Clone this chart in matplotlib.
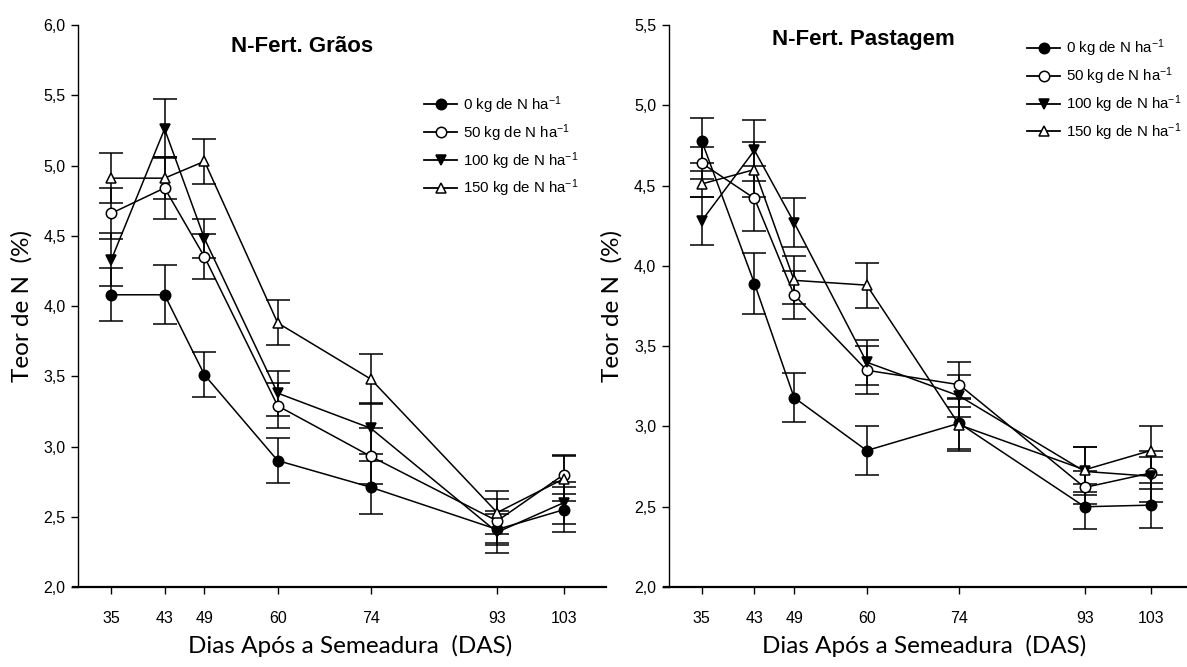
import matplotlib
matplotlib.use("Agg")
import matplotlib.pyplot as plt
from matplotlib.lines import Line2D
from matplotlib.ticker import FuncFormatter, MultipleLocator

# dias apos a semeadura
das = [35, 43, 49, 60, 74, 93, 103]
doses = ["0", "50", "100", "150"]

# N-Fert. Graos: teor de N (%) e erro
graos_0 = [4.08, 4.08, 3.51, 2.90, 2.71, 2.41, 2.55]
graos_50 = [4.66, 4.84, 4.35, 3.29, 2.93, 2.47, 2.80]
graos_100 = [4.33, 5.26, 4.48, 3.38, 3.13, 2.39, 2.60]
graos_150 = [4.91, 4.91, 5.03, 3.88, 3.48, 2.53, 2.77]
graos_err_0 = [0.19, 0.21, 0.16, 0.16, 0.19, 0.11, 0.16]
graos_err_50 = [0.18, 0.22, 0.16, 0.16, 0.20, 0.16, 0.14]
graos_err_100 = [0.19, 0.21, 0.14, 0.16, 0.18, 0.15, 0.15]
graos_err_150 = [0.18, 0.15, 0.16, 0.16, 0.18, 0.15, 0.16]

# N-Fert. Pastagem
past_0 = [4.78, 3.89, 3.18, 2.85, 3.02, 2.50, 2.51]
past_50 = [4.64, 4.42, 3.82, 3.35, 3.26, 2.62, 2.71]
past_100 = [4.28, 4.72, 4.27, 3.40, 3.19, 2.72, 2.69]
past_150 = [4.51, 4.60, 3.91, 3.88, 3.01, 2.73, 2.85]
past_err_0 = [0.14, 0.19, 0.15, 0.15, 0.16, 0.14, 0.14]
past_err_50 = [0.10, 0.20, 0.15, 0.15, 0.14, 0.10, 0.10]
past_err_100 = [0.15, 0.19, 0.15, 0.14, 0.13, 0.15, 0.16]
past_err_150 = [0.08, 0.17, 0.15, 0.14, 0.16, 0.14, 0.15]

plt.rcParams["font.family"] = ["Liberation Sans Narrow", "Liberation Sans", "DejaVu Sans"]
plt.rcParams["mathtext.default"] = "regular"

markers = [("o", "black"), ("o", "white"), ("v", "black"), ("^", "white")]


def painel(ax, series, errs, ymax, title, title_pos, leg_pos, xlab_x):
    handles = []
    for dose, y, e, (m, fc) in zip(doses, series, errs, markers):
        ax.errorbar(das, y, yerr=e, color="black", lw=1.1, marker=m,
                    ms=7.5, mfc=fc, mec="black", mew=1.1, elinewidth=1.1,
                    capsize=8.5, capthick=1.6)
        handles.append(Line2D([], [], color="black", lw=1.3, marker=m, ms=7.5,
                              mfc=fc, mec="black", mew=1.1,
                              label=f"{dose} kg de N ha$^{{-1}}$"))
    ax.set_xlim(29.2, 109.3)
    ax.set_ylim(2.0, ymax)
    ax.set_xticks(das)
    ax.yaxis.set_major_locator(MultipleLocator(0.5))
    ax.yaxis.set_major_formatter(FuncFormatter(lambda v, p: f"{v:.1f}".replace(".", ",")))
    ax.spines["top"].set_visible(False)
    ax.spines["right"].set_visible(False)
    ax.spines["left"].set_position(("data", 30))
    ax.spines["left"].set_linewidth(1.0)
    ax.spines["bottom"].set_linewidth(1.6)
    ax.tick_params(direction="out", length=5, width=1, labelsize=11.5, pad=4)
    ax.tick_params(axis="x", pad=12)
    ax.set_xlabel("Dias Após a Semeadura  (DAS)", fontsize=17.5, family="Lato")
    ax.xaxis.set_label_coords(xlab_x, -0.085)
    ax.set_ylabel("Teor de N  (%)", fontsize=17.5, family="Lato", labelpad=8)
    ax.text(title_pos[0], title_pos[1], title, transform=ax.transAxes,
            ha="center", va="center", fontsize=16, fontweight="bold",
            family="Liberation Sans")
    ax.legend(handles=handles, loc="upper left", bbox_to_anchor=leg_pos,
              frameon=False, fontsize=10.8, handlelength=2.2, handletextpad=0.35,
              labelspacing=0.42, borderpad=0, borderaxespad=0)


fig = plt.figure(figsize=(11.87, 6.67), dpi=100)
ax1 = fig.add_axes([0.0613, 0.1199, 0.4489, 0.8426])
ax2 = fig.add_axes([0.5594, 0.1199, 0.4406, 0.8426])

painel(ax1, [graos_0, graos_50, graos_100, graos_150],
       [graos_err_0, graos_err_50, graos_err_100, graos_err_150],
       6.0, "N-Fert. Grãos", (0.43, 0.962), (0.66, 0.877), 0.52)
painel(ax2, [past_0, past_50, past_100, past_150],
       [past_err_0, past_err_50, past_err_100, past_err_150],
       5.5, "N-Fert. Pastagem", (0.382, 0.975), (0.695, 0.978), 0.497)
ax2.set_xlim(29.3, 108.5)

fig.savefig("out.png", dpi=100)
